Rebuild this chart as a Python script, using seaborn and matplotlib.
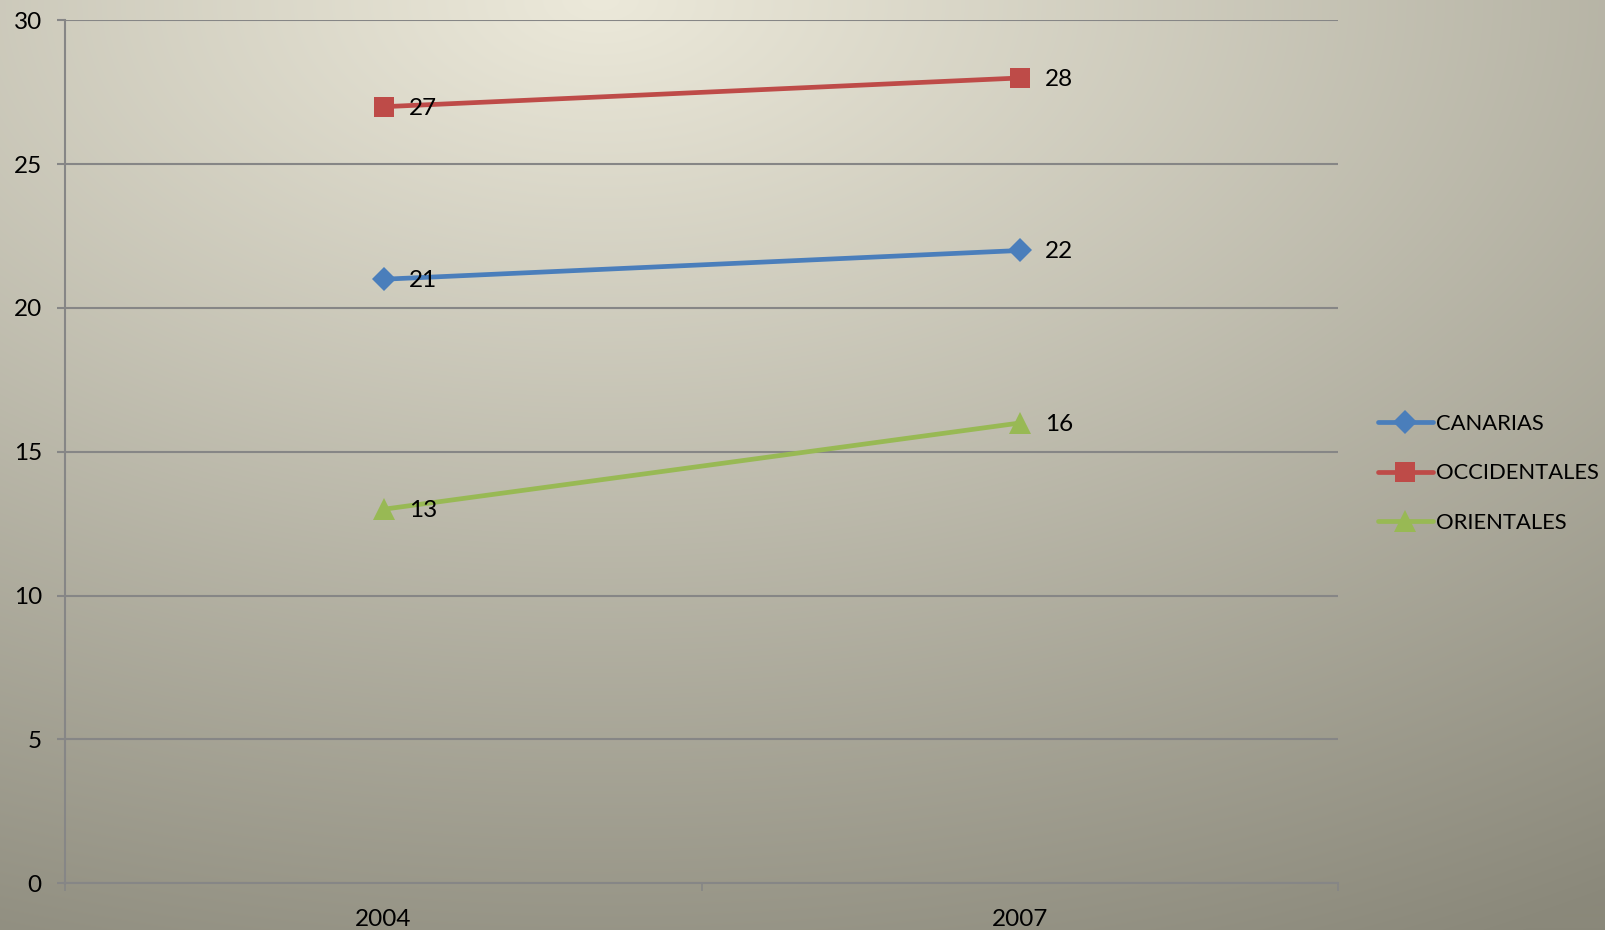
import numpy as np
import pandas as pd
import matplotlib.pyplot as plt
import seaborn as sns

# chart data
years = ['2004', '2007']
canarias = [21, 22]
occidentales = [27, 28]
orientales = [13, 16]
series_names = ['CANARIAS', 'OCCIDENTALES', 'ORIENTALES']

df = pd.DataFrame({
    'year': years * 3,
    'value': canarias + occidentales + orientales,
    'serie': [n for n in series_names for _ in years],
})
df['pos'] = df['year'].map({y: i for i, y in enumerate(years)})

sns.set_theme(style='white')
plt.rcParams['font.family'] = ['Lato', 'DejaVu Sans']

fig = plt.figure(figsize=(16.05, 9.30), dpi=100)

# soft radial background like the office chart style
bg = fig.add_axes([0, 0, 1, 1], zorder=-1)
h, w = 930, 1605
yy, xx = np.mgrid[0:h, 0:w]
dx = (xx - 600) / w / 1.16
dy = yy / h / 1.15
r = np.clip(np.sqrt(dx ** 2 + dy ** 2), 0, 1)
light = np.array([236, 233, 218]) / 255
dark = np.array([138, 136, 122]) / 255
img = light[None, None, :] * (1 - r[..., None]) + dark[None, None, :] * r[..., None]
bg.imshow(img, aspect='auto', extent=[0, 1, 0, 1])
bg.axis('off')

ax = fig.add_axes([0.0408, 0.0505, 0.7928, 0.9275])
ax.set_facecolor('none')

styles = {
    'CANARIAS': ('#4A7EBB', 'D', 12.5),
    'OCCIDENTALES': ('#BE4B48', 's', 15),
    'ORIENTALES': ('#98B954', '^', 16),
}
for name in series_names:
    color, marker, ms = styles[name]
    sub = df[df['serie'] == name]
    sns.lineplot(data=sub, x='pos', y='value', ax=ax, color=color, marker=marker,
                 markersize=ms, markeredgewidth=0, linewidth=3.4, label=name)
    for _, row in sub.iterrows():
        ax.annotate(str(row['value']), (row['pos'], row['value']), xytext=(18, -1),
                    textcoords='offset points', ha='left', va='center',
                    fontsize=17.5, color='black')

ax.set_xlim(-0.5, len(years) - 0.5)
ax.set_ylim(0, 30)
ax.set_yticks(range(0, 31, 5))
ax.grid(axis='y', color='#868686', linewidth=1.5)
ax.set_axisbelow(True)
ax.set_xticks(range(len(years)))
ax.set_xticklabels(years)
ax.set_xticks(np.arange(-0.5, len(years), 1.0), minor=True)
ax.tick_params(axis='x', which='major', length=0, pad=19, labelsize=17.5, colors='black')
ax.tick_params(axis='x', which='minor', length=6, width=1.2, color='#868686', direction='out', bottom=True)
ax.tick_params(axis='y', length=6, width=1.5, color='#868686', pad=11, labelsize=17.5,
               colors='black', left=True)
ax.set_xlabel('')
ax.set_ylabel('')
for side in ['top', 'right']:
    ax.spines[side].set_visible(False)
for side in ['left', 'bottom']:
    ax.spines[side].set_color('#868686')
    ax.spines[side].set_linewidth(1.5)

leg = ax.legend(loc='center left', bbox_to_anchor=(0.8586, 0.491), bbox_transform=fig.transFigure,
                frameon=False, fontsize=15.8, handlelength=2.5, handletextpad=0.15,
                labelspacing=1.34, borderpad=0, borderaxespad=0)
for t in leg.get_texts():
    t.set_color('black')

fig.savefig('out.png', dpi=100)
